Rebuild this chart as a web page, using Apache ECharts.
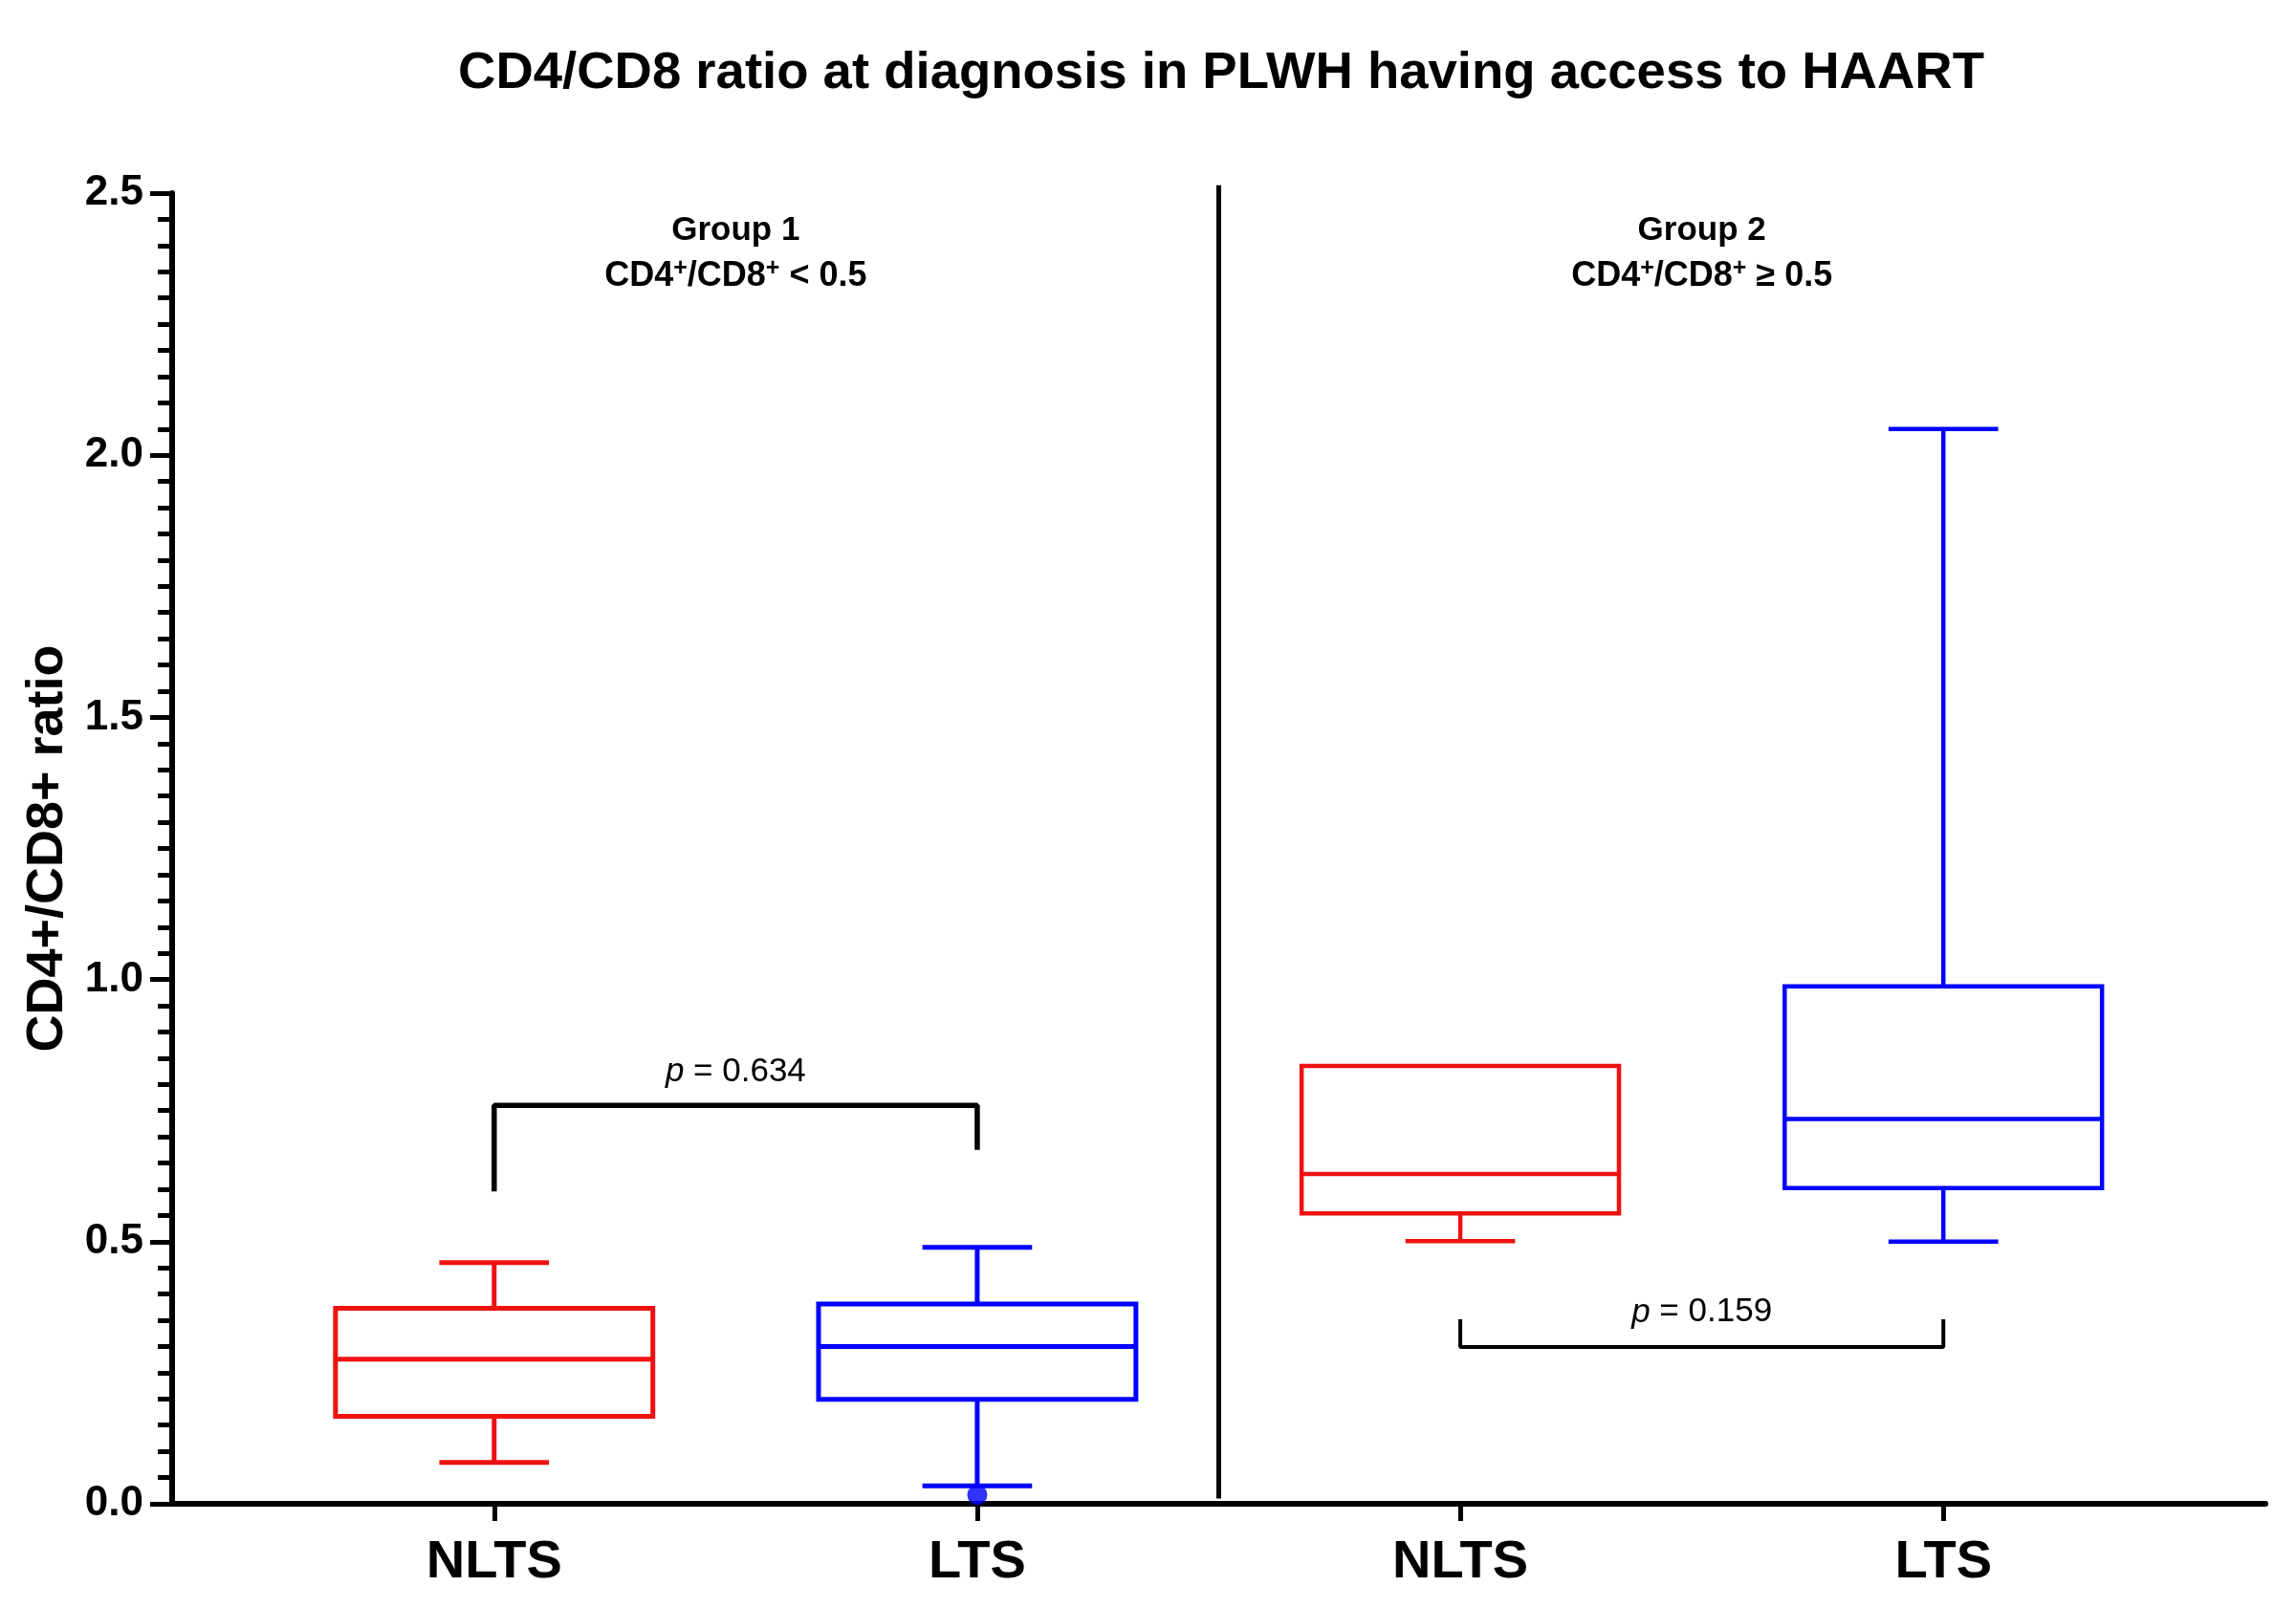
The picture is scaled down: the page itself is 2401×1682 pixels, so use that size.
<!DOCTYPE html>
<html>
<head>
<meta charset="utf-8">
<script src="https://cdn.jsdelivr.net/npm/echarts@6/dist/echarts.min.js"></script>
<style>
html,body{margin:0;padding:0;background:#fff;}
#chart{width:2401px;height:1682px;}
</style>
</head>
<body>
<div id="chart"></div>
<script>
// ---------- data ----------
const categories = ['NLTS', 'LTS', 'NLTS', 'LTS'];
const whiskerLow = [0.079, 0.034, 0.501, 0.500];
const q1 = [0.167, 0.199, 0.554, 0.602];
const median = [0.276, 0.300, 0.629, 0.734];
const q3 = [0.373, 0.381, 0.835, 0.987];
const whiskerHigh = [0.460, 0.489, 0.835, 2.050];
const outlierX = [1];
const outlierY = [0.017];
const yTicks = [0, 0.5, 1.0, 1.5, 2.0, 2.5];
const groupNames = ['Group 1', 'Group 2'];
const groupCriteria = ['CD4{sup|+}/CD8{sup|+} < 0.5', 'CD4{sup|+}/CD8{sup|+} \u2265 0.5'];
const pValues = ['0.634', '0.159'];
// bracket 1 (above group 1), bracket 2 (below group 2)
const bracket1 = [[0, 0.596], [0, 0.760], [1, 0.760], [1, 0.675]];
const bracket2 = [[2, 0.352], [2, 0.299], [3, 0.299], [3, 0.352]];

// ---------- styles ----------
const RED = '#ee1111';
const BLUE = '#0000ff';
const boxColors = [RED, BLUE, RED, BLUE];
const boxLineWidths = [5, 5, 4.5, 4.5];
const FONT = '"Liberation Sans", Arial, Helvetica, sans-serif';
const BOX_W = 0.657;   // in x units
const CAP_W = 0.227;

const boxData = categories.map((c, i) => [i, whiskerLow[i], q1[i], median[i], q3[i], whiskerHigh[i]]);

function renderBox(params, api) {
  const x = api.value(0);
  const low = api.coord([x, api.value(1)]);
  const b1 = api.coord([x, api.value(2)]);
  const md = api.coord([x, api.value(3)]);
  const b3 = api.coord([x, api.value(4)]);
  const hi = api.coord([x, api.value(5)]);
  const bw = api.size([BOX_W, 0])[0];
  const cw = api.size([CAP_W, 0])[0];
  const color = boxColors[params.dataIndex];
  const lw = boxLineWidths[params.dataIndex];
  const st = {stroke: color, lineWidth: lw, fill: null};
  const ch = [];
  if (hi[1] < b3[1] - 1) {
    ch.push({type: 'line', shape: {x1: hi[0], y1: hi[1], x2: b3[0], y2: b3[1]}, style: st});
    ch.push({type: 'line', shape: {x1: hi[0] - cw / 2, y1: hi[1], x2: hi[0] + cw / 2, y2: hi[1]}, style: st});
  }
  ch.push({type: 'line', shape: {x1: b1[0], y1: b1[1], x2: low[0], y2: low[1]}, style: st});
  ch.push({type: 'line', shape: {x1: low[0] - cw / 2, y1: low[1], x2: low[0] + cw / 2, y2: low[1]}, style: st});
  ch.push({type: 'rect', shape: {x: b3[0] - bw / 2, y: b3[1], width: bw, height: b1[1] - b3[1]},
           style: {stroke: color, lineWidth: lw, fill: 'rgba(0,0,0,0)'}});
  ch.push({type: 'line', shape: {x1: md[0] - bw / 2, y1: md[1], x2: md[0] + bw / 2, y2: md[1]}, style: st});
  return {type: 'group', children: ch};
}

const groupLabelData = groupNames.map((g, i) => [0.5 + 2 * i, 2.5, i]);
function renderGroupLabel(params, api) {
  const i = api.value(2);
  const p1 = api.coord([api.value(0), 2.429]);
  const p2 = api.coord([api.value(0), 2.341]);
  return {type: 'group', children: [
    {type: 'text', x: p1[0], y: p1[1], style: {text: groupNames[i], fontFamily: FONT, fontWeight: 'bold',
      fontSize: 35, fill: '#000', align: 'center', verticalAlign: 'middle'}},
    {type: 'text', x: p2[0], y: p2[1], style: {text: groupCriteria[i], fontFamily: FONT, fontWeight: 'bold',
      fontSize: 36, fill: '#000', align: 'center', verticalAlign: 'middle',
      rich: {sup: {fontFamily: FONT, fontWeight: 'bold', fontSize: 25, verticalAlign: 'top', padding: [0, 0, 16, 0]}}}}
  ]};
}

const pLabelData = [[0.5, 0.823, 0], [2.5, 0.365, 1]];
function renderP(params, api) {
  const p = api.coord([api.value(0), api.value(1)]);
  const i = api.value(2);
  return {type: 'text', x: p[0], y: p[1], style: {
    text: '{i|p} = ' + pValues[i], fontFamily: FONT, fontSize: 35, fill: '#000',
    align: 'center', verticalAlign: 'middle',
    rich: {i: {fontFamily: FONT, fontStyle: 'italic', fontSize: 35}}
  }};
}

const chart = echarts.init(document.getElementById('chart'));
chart.setOption({
  backgroundColor: '#fff',
  animation: false,
  title: {
    text: 'CD4/CD8 ratio at diagnosis in PLWH having access to HAART',
    left: 1272, top: 44, textAlign: 'center',
    textStyle: {fontFamily: FONT, fontWeight: 'bold', fontSize: 54.5, color: '#000'}
  },
  grid: {left: 180, right: 32, top: 202, bottom: 109, containLabel: false},
  xAxis: {
    type: 'value', min: -2 / 3, max: 11 / 3,
    splitLine: {show: false},
    axisLine: {show: true, onZero: false, lineStyle: {color: '#000', width: 6}},
    axisTick: {show: true, customValues: [0, 1, 2, 3], length: 18, lineStyle: {color: '#000', width: 5}},
    axisLabel: {show: true, customValues: [0, 1, 2, 3], margin: 34,
      formatter: v => categories[Math.round(v)] || '',
      fontFamily: FONT, fontWeight: 'bold', fontSize: 56, color: '#000'}
  },
  yAxis: {
    type: 'value', min: 0, max: 2.5, interval: 0.5,
    name: 'CD4+/CD8+ ratio', nameLocation: 'middle', nameGap: 103, nameRotate: 90,
    nameTextStyle: {fontFamily: FONT, fontWeight: 'bold', fontSize: 54, color: '#000'},
    splitLine: {show: false},
    axisLine: {show: true, onZero: false, lineStyle: {color: '#000', width: 6}},
    axisTick: {show: true, length: 23, lineStyle: {color: '#000', width: 5}},
    minorTick: {show: true, splitNumber: 10, length: 15, lineStyle: {color: '#000', width: 5}},
    axisLabel: {margin: 30, fontFamily: FONT, fontWeight: 'bold', fontSize: 44, color: '#000',
      formatter: v => v.toFixed(1)}
  },
  series: [
    {type: 'custom', name: 'boxes', renderItem: renderBox, data: boxData,
     encode: {x: 0, y: [1, 2, 3, 4, 5]}, clip: false, z: 3},
    {type: 'scatter', name: 'outliers', data: outlierX.map((x, i) => [x, outlierY[i]]),
     symbol: 'circle', symbolSize: 21, itemStyle: {color: BLUE}, clip: false, z: 4},
    {type: 'line', name: 'divider', data: [[1.5, 0.01], [1.5, 2.515]], symbol: 'none', clip: false,
     lineStyle: {color: '#000', width: 5}, z: 2},
    {type: 'line', name: 'bracket1', data: bracket1, symbol: 'none', clip: false,
     lineStyle: {color: '#000', width: 5.5}, z: 2},
    {type: 'line', name: 'bracket2', data: bracket2, symbol: 'none', clip: false,
     lineStyle: {color: '#000', width: 4}, z: 2},
    {type: 'custom', name: 'groupLabels', renderItem: renderGroupLabel, data: groupLabelData,
     encode: {x: 0, y: 1}, clip: false, z: 5},
    {type: 'custom', name: 'pLabels', renderItem: renderP, data: pLabelData,
     encode: {x: 0, y: 1}, clip: false, z: 5}
  ]
});
</script>
</body>
</html>
